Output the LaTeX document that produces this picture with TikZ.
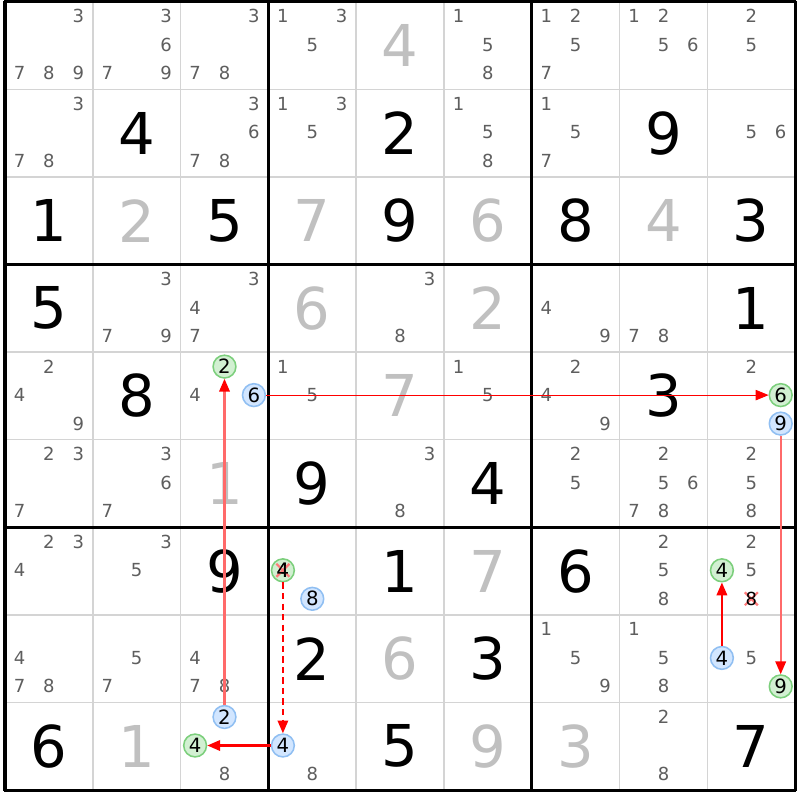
\documentclass[tikz,border=0pt]{standalone}
\usepackage{fontspec}
\setmainfont{DejaVu Sans}
\usetikzlibrary{arrows.meta}
\definecolor{candc}{HTML}{5E5E5E}
\definecolor{givg}{HTML}{C0C0C0}
\definecolor{gridgray}{HTML}{D4D4D4}
\definecolor{gfill}{HTML}{D2F0D2}
\definecolor{gline}{HTML}{7CCF7C}
\definecolor{bfill}{HTML}{D2E6FF}
\definecolor{bline}{HTML}{90BFF2}
\definecolor{lred}{HTML}{FF6A6A}
\definecolor{xpink}{HTML}{FF7A7A}
\newcommand{\givn}[4][given]{\node[#1] (v#2#3) at ({5+87.8*#3+43.9},{1.7+87.6*#2+43.8}) {#4};}
\newcommand{\cands}[3]{\foreach \d in {#3}{\node[cand] (k#1#2\d) at ({5+87.8*#2+14.5+29.4*mod(\d-1,3)},{1.7+87.6*#1+14.5+28.5*int((\d-1)/3)}) {\d};}}
\newcommand{\circd}[5]{\node[#1] (#2) at ({5+87.8*#4+14.5+29.4*mod(#5-1,3)},{1.7+87.6*#3+14.5+28.5*int((#5-1)/3)}) {#5};}
\begin{document}
\begin{tikzpicture}[x=0.025cm,y=-0.025cm,
  cand/.style={text=candc,font=\fontsize{12.8}{13}\selectfont,inner sep=0pt},
  given/.style={text=black,font=\fontsize{41}{41}\selectfont,inner sep=0pt},
  solved/.style={given,text=givg},
  gmark/.style={circle,draw=gline,fill=gfill,line width=1.1pt,minimum size=5.7mm,inner sep=0pt,text=black,font=\fontsize{14}{14}\selectfont},
  bmark/.style={gmark,draw=bline,fill=bfill},
  marktext/.style={text=black,font=\fontsize{14}{14}\selectfont,inner sep=0pt},
  xmk/.style={xpink,line width=1.6pt},
  link/.style={-{Triangle[length=3.2mm,width=2.6mm,color=red]},draw=red,line width=1.5pt}]
\useasboundingbox (0,0) rectangle (800,800);
\fill[white] (0,0) rectangle (800,800);
% grid
\foreach \i in {1,2,4,5,7,8}{
  \draw[gridgray,line width=1.1pt] ({5+87.8*\i},1.7) -- ({5+87.8*\i},790.1);
  \draw[gridgray,line width=1.1pt] (5,{1.7+87.6*\i}) -- (795.2,{1.7+87.6*\i});
}
\foreach \i in {0,3,6,9}{
  \draw[black,line width=2.2pt] ({5+87.8*\i},0.6) -- ({5+87.8*\i},791.2);
  \draw[black,line width=2.2pt] (3.9,{1.7+87.6*\i}) -- (796.3,{1.7+87.6*\i});
}
% row 0
\cands{0}{0}{3,7,8,9} \cands{0}{1}{3,6,7,9} \cands{0}{2}{3,7,8} \cands{0}{3}{1,3,5}
\givn[solved]{0}{4}{4} \cands{0}{5}{1,5,8} \cands{0}{6}{1,2,5,7} \cands{0}{7}{1,2,5,6} \cands{0}{8}{2,5}
% row 1
\cands{1}{0}{3,7,8} \givn{1}{1}{4} \cands{1}{2}{3,6,7,8} \cands{1}{3}{1,3,5} \givn{1}{4}{2}
\cands{1}{5}{1,5,8} \cands{1}{6}{1,5,7} \givn{1}{7}{9} \cands{1}{8}{5,6}
% row 2
\givn{2}{0}{1} \givn[solved]{2}{1}{2} \givn{2}{2}{5} \givn[solved]{2}{3}{7} \givn{2}{4}{9}
\givn[solved]{2}{5}{6} \givn{2}{6}{8} \givn[solved]{2}{7}{4} \givn{2}{8}{3}
% row 3
\givn{3}{0}{5} \cands{3}{1}{3,7,9} \cands{3}{2}{3,4,7} \givn[solved]{3}{3}{6} \cands{3}{4}{3,8}
\givn[solved]{3}{5}{2} \cands{3}{6}{4,9} \cands{3}{7}{7,8} \givn{3}{8}{1}
% row 4
\cands{4}{0}{2,4,9} \givn{4}{1}{8} \cands{4}{2}{4} \circd{gmark}{g42}{4}{2}{2} \circd{bmark}{b42}{4}{2}{6}
\cands{4}{3}{1,5} \givn[solved]{4}{4}{7} \cands{4}{5}{1,5} \cands{4}{6}{2,4,9} \givn{4}{7}{3}
\cands{4}{8}{2} \circd{gmark}{g48}{4}{8}{6} \circd{bmark}{b48}{4}{8}{9}
% row 5
\cands{5}{0}{2,3,7} \cands{5}{1}{3,6,7} \givn[solved]{5}{2}{1} \givn{5}{3}{9} \cands{5}{4}{3,8}
\givn{5}{5}{4} \cands{5}{6}{2,5} \cands{5}{7}{2,5,6,7,8} \cands{5}{8}{2,5,8}
% row 6
\cands{6}{0}{2,3,4} \cands{6}{1}{3,5} \givn{6}{2}{9}
\circd{gmark}{g63}{6}{3}{4} \circd{bmark}{b63}{6}{3}{8}
\draw[xmk] ([shift={(-6.5,-6.5)}]g63.center) -- ([shift={(6.5,6.5)}]g63.center)
           ([shift={(-6.5,6.5)}]g63.center) -- ([shift={(6.5,-6.5)}]g63.center);
\node[marktext] (t63) at (g63.center) {4};
\givn{6}{4}{1} \givn[solved]{6}{5}{7} \givn{6}{6}{6} \cands{6}{7}{2,5,8}
\cands{6}{8}{2,5} \circd{gmark}{g68}{6}{8}{4}
\coordinate (p68) at ({5+87.8*8+43.9},{1.7+87.6*6+71.5});
\draw[xmk] ([shift={(-6.5,-6.5)}]p68) -- ([shift={(6.5,6.5)}]p68)
           ([shift={(-6.5,6.5)}]p68) -- ([shift={(6.5,-6.5)}]p68);
\node[cand,text=black] (x68) at (p68) {8};
% row 7
\cands{7}{0}{4,7,8} \cands{7}{1}{5,7} \cands{7}{2}{4,7,8} \givn{7}{3}{2} \givn[solved]{7}{4}{6}
\givn{7}{5}{3} \cands{7}{6}{1,5,9} \cands{7}{7}{1,5,8}
\cands{7}{8}{5} \circd{bmark}{b78}{7}{8}{4} \circd{gmark}{g78}{7}{8}{9}
% row 8
\givn{8}{0}{6} \givn[solved]{8}{1}{1} \cands{8}{2}{8} \circd{bmark}{b82}{8}{2}{2} \circd{gmark}{g82}{8}{2}{4}
\cands{8}{3}{8} \circd{bmark}{b83}{8}{3}{4} \givn{8}{4}{5} \givn[solved]{8}{5}{9}
\givn[solved]{8}{6}{3} \cands{8}{7}{2,8} \givn{8}{8}{7}
% links
\draw[link] (b83) -- (g82);
\draw[link,draw=lred] (b82) -- (g42);
\draw[link,line width=0.6pt] (b42) -- (g48);
\draw[link,draw=lred] (b48) -- (g78);
\draw[link] (b78) -- (g68);
\draw[link,dash pattern=on 4.5pt off 3pt] (g63) -- (b83);
\end{tikzpicture}
\end{document}
